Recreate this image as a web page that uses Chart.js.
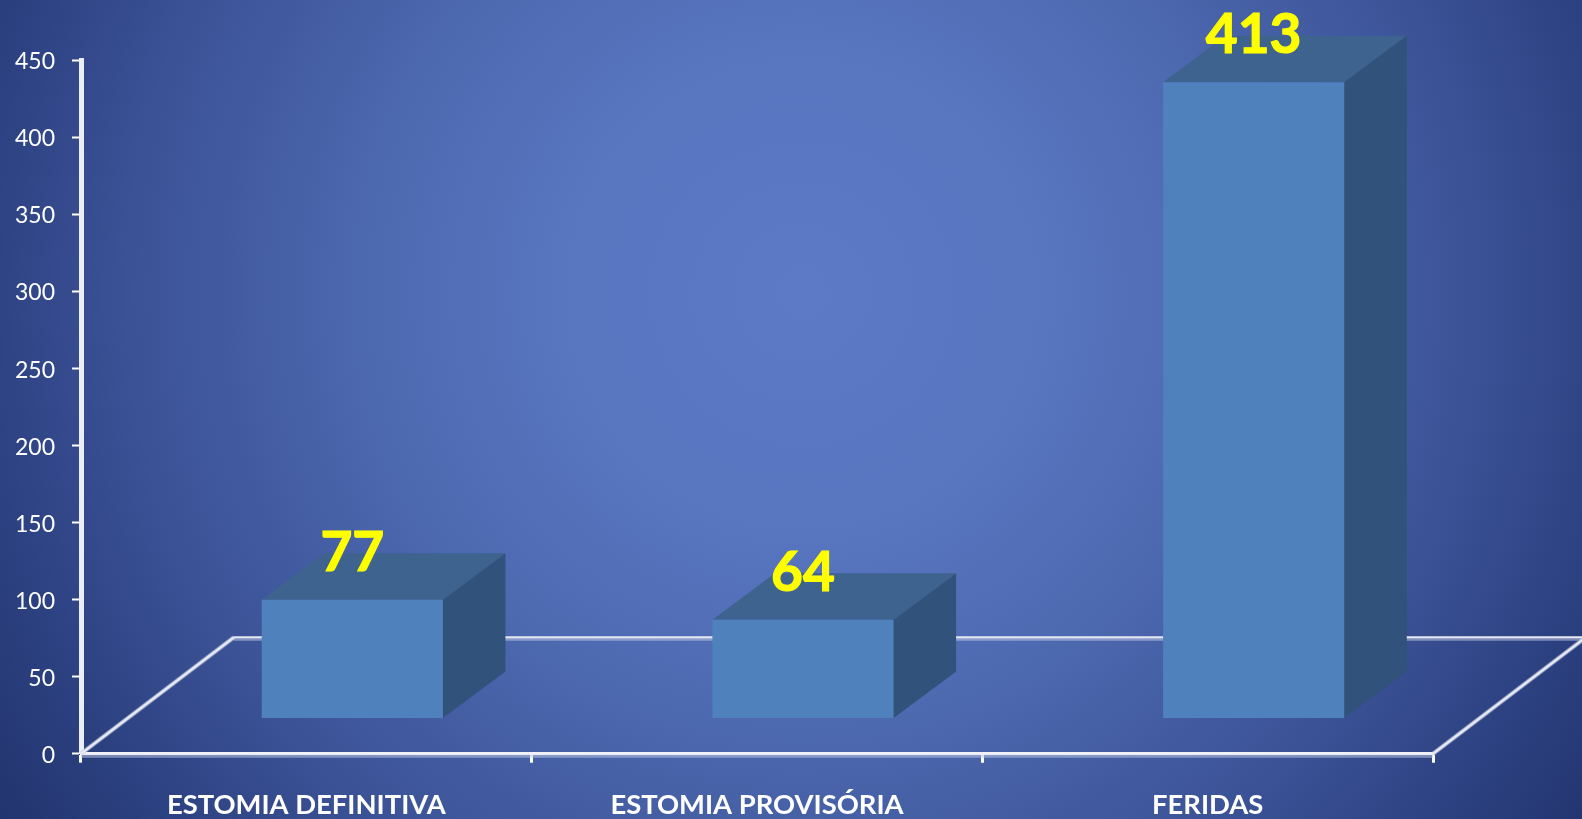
<!DOCTYPE html>
<html lang="pt">
<head>
<meta charset="utf-8">
<title>Estomias e feridas</title>
<script src="https://cdn.jsdelivr.net/npm/chart.js@4"></script>
<style>
html,body{margin:0;padding:0;width:1582px;height:819px;overflow:hidden;
background:radial-gradient(circle 960px at 802px 293px,#5c7ac6 0%,#5875c0 25%,#4d69b0 45%,#3b5296 70%,#2d4282 85%,#22346f 100%);}
canvas{display:block}
</style>
</head>
<body>
<canvas id="c" width="1582" height="819"></canvas>
<script>
const categories = ['ESTOMIA DEFINITIVA', 'ESTOMIA PROVISÓRIA', 'FERIDAS'];
const values = [77, 64, 413];
const yTicks = [0, 50, 100, 150, 200, 250, 300, 350, 400, 450];

const FRONT = '#4f81bd', TOP = '#3e638f', SIDE = '#31527a';
const DEPTH_X = 62.5, DEPTH_Y = 46.5;      // depth of a bar
const SHIFT_X = 46, SHIFT_Y = 35.3;        // bar front offset from the axis plane
const FLOOR_X = 153, FLOOR_Y = 116.5;      // depth of the floor
const AREA = {left:81, right:1433, top:60.5, bottom:753.7};

function line(ctx, pts, color, w){
  ctx.beginPath();
  pts.forEach((p,i)=> i ? ctx.lineTo(p[0],p[1]) : ctx.moveTo(p[0],p[1]));
  ctx.strokeStyle = color; ctx.lineWidth = w; ctx.lineJoin='round'; ctx.stroke();
}
function poly(ctx, pts, color){
  ctx.beginPath();
  pts.forEach((p,i)=> i ? ctx.lineTo(p[0],p[1]) : ctx.moveTo(p[0],p[1]));
  ctx.closePath(); ctx.fillStyle = color; ctx.fill();
}

const bar3d = {
  id:'bar3d',
  beforeDatasetsDraw(chart){
    const {ctx, chartArea:a} = chart;
    ctx.save();
    // floor
    const bl=a.left, br=a.right, by=a.bottom;
    line(ctx,[[bl+FLOOR_X,by-FLOOR_Y+2],[br+FLOOR_X+20,by-FLOOR_Y+2]],'rgba(190,200,225,.55)',3);
    line(ctx,[[bl+FLOOR_X,by-FLOOR_Y],[br+FLOOR_X+20,by-FLOOR_Y]],'#e6e9f3',2);
    line(ctx,[[bl,by+2.5],[br,by+2.5]],'rgba(190,200,225,.55)',3);
    line(ctx,[[bl,by],[bl+FLOOR_X,by-FLOOR_Y]],'rgba(190,200,225,.6)',4.5);
    line(ctx,[[br,by],[br+FLOOR_X,by-FLOOR_Y]],'rgba(190,200,225,.6)',4.5);
    line(ctx,[[bl,by],[bl+FLOOR_X,by-FLOOR_Y]],'#e6e9f3',2.5);
    line(ctx,[[br,by],[br+FLOOR_X,by-FLOOR_Y]],'#e6e9f3',2.5);
    // side and top faces
    chart.getDatasetMeta(0).data.forEach(el=>{
      const l=el.x-el.width/2+SHIFT_X, r=el.x+el.width/2+SHIFT_X;
      const t=el.y-SHIFT_Y, b=el.base-SHIFT_Y;
      poly(ctx,[[l,t],[r,t],[r+DEPTH_X,t-DEPTH_Y],[l+DEPTH_X,t-DEPTH_Y]],TOP);
      poly(ctx,[[r-2,t],[r,t],[r+DEPTH_X,t-DEPTH_Y],[r+DEPTH_X,b-DEPTH_Y],[r,b],[r-2,b]],SIDE);
    });
    ctx.restore();
  },
  beforeDatasetDraw(chart){
    chart.ctx.save();
    chart.ctx.translate(SHIFT_X,-SHIFT_Y);
  },
  afterDatasetDraw(chart){
    chart.ctx.restore();
  },
  afterDatasetsDraw(chart){
    const {ctx} = chart;
    ctx.save();
    ctx.fillStyle='#ffff00';
    ctx.strokeStyle='#ffff00';
    ctx.lineWidth=1.2;
    ctx.font='bold 55px Lato';
    ctx.textAlign='center';
    ctx.textBaseline='middle';
    chart.getDatasetMeta(0).data.forEach((el,i)=>{
      const x=el.x+SHIFT_X, y=el.y-SHIFT_Y-46.5;
      ctx.fillText(String(values[i]), x, y);
      ctx.strokeText(String(values[i]), x, y);
    });
    ctx.restore();
  }
};

new Chart(document.getElementById('c'),{
  type:'bar',
  data:{labels:categories,datasets:[{data:values,backgroundColor:FRONT,borderWidth:0,
    barPercentage:0.402,categoryPercentage:1,clip:false}]},
  plugins:[bar3d],
  options:{
    responsive:false,animation:false,
    layout:{padding:{top:AREA.top,right:1582-AREA.right,left:0,bottom:0}},
    plugins:{legend:{display:false},tooltip:{enabled:false},title:{display:false}},
    scales:{
      x:{
        grid:{display:true,drawOnChartArea:false,drawTicks:true,tickLength:9,tickWidth:3,tickColor:'#ffffff',offset:true},
        border:{display:true,color:'#f0f2f8',width:3},
        ticks:{color:'#ffffff',font:{family:'Lato',weight:'bold',size:27.4},padding:26,maxRotation:0,autoSkip:false},
        afterFit(s){s.height=819-AREA.bottom;}
      },
      y:{
        min:0,max:450,
        afterBuildTicks(s){s.ticks=yTicks.map(v=>({value:v}));},
        grid:{display:true,drawOnChartArea:false,drawTicks:true,tickLength:9,tickWidth:2,tickColor:'#ffffff'},
        border:{display:true,color:'#eceef6',width:5},
        ticks:{color:'#ffffff',font:{family:'Lato',size:23},padding:17,labelOffset:1.5},
        afterFit(s){s.width=AREA.left;}
      }
    }
  }
});
</script>
</body>
</html>
